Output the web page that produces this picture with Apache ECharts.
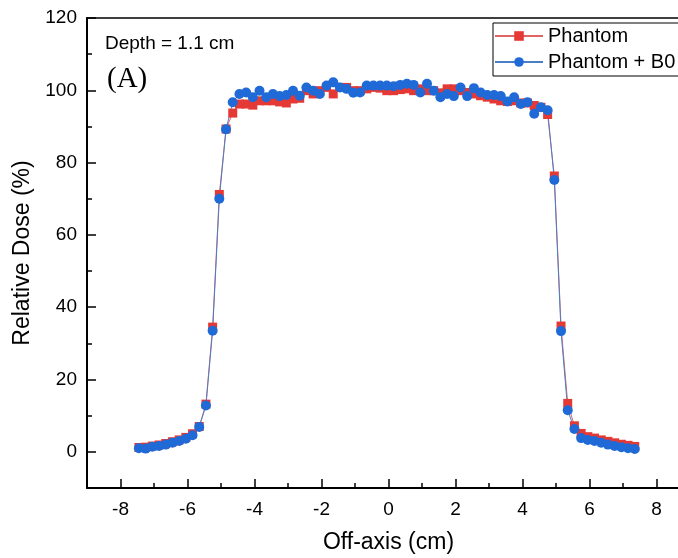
<!DOCTYPE html>
<html>
<head>
<meta charset="utf-8">
<script src="https://cdn.jsdelivr.net/npm/echarts@6/dist/echarts.min.js"></script>
<style>html,body{margin:0;padding:0;background:#fff;}#chart{width:678px;height:558px;}</style>
</head>
<body>
<div id="chart"></div>
<script>
// Off-axis positions (cm)
var offAxis = [-7.45,-7.25,-7.05,-6.85,-6.65,-6.45,-6.25,-6.05,-5.85,-5.65,
  -5.45,-5.25,-5.05,-4.85,-4.65,-4.45,-4.25,-4.05,-3.85,-3.65,
  -3.45,-3.25,-3.05,-2.85,-2.65,-2.45,-2.25,-2.05,-1.85,-1.65,
  -1.45,-1.25,-1.05,-0.85,-0.65,-0.45,-0.25,-0.05,0.15,0.35,
  0.55,0.75,0.95,1.15,1.35,1.55,1.75,1.95,2.15,2.35,
  2.55,2.75,2.95,3.15,3.35,3.55,3.75,3.95,4.15,4.35,
  4.55,4.75,4.95,5.15,5.35,5.55,5.75,5.95,6.15,6.35,
  6.55,6.75,6.95,7.15,7.35];
// Relative dose (%) - Phantom
var phantom = [1.2,1.3,1.6,1.9,2.3,2.8,3.3,4.0,5.0,7.0,
  13.2,34.5,71.2,89.3,93.7,96.2,96.2,95.9,97.1,97.1,
  97.1,96.8,96.5,97.6,97.8,99.9,99.0,99.9,100.8,99.0,
  100.8,100.8,99.9,99.9,100.4,100.8,100.6,99.9,99.9,100.2,
  100.4,99.9,100.4,99.9,99.9,99.3,100.4,100.4,99.9,99.4,
  99.0,98.5,98.1,97.6,97.1,96.9,97.1,96.5,96.5,95.8,
  95.3,93.3,76.3,34.8,13.4,7.2,5.1,4.2,3.8,3.3,
  2.9,2.5,2.1,1.8,1.5];
// Relative dose (%) - Phantom + B0
var phantomB0 = [1.0,0.9,1.4,1.6,2.0,2.5,3.0,3.6,4.6,6.9,
  12.8,33.5,70.0,89.2,96.7,99.0,99.4,98.1,99.9,98.1,
  99.0,98.4,98.7,99.9,98.5,100.8,99.9,99.0,101.3,102.2,
  100.8,100.4,99.3,99.4,101.3,101.3,101.3,101.3,101.1,101.5,
  101.8,101.5,99.4,101.8,99.9,98.1,99.0,98.4,100.8,98.4,
  100.6,99.4,98.7,98.7,98.4,96.9,98.1,96.2,96.7,93.5,
  95.3,94.5,75.2,33.4,11.5,6.3,3.8,3.3,3.0,2.5,
  2.0,1.6,1.3,1.0,0.8];
var xMajorTicks = [-8,-6,-4,-2,0,2,4,6,8];
var yMajorTicks = [0,20,40,60,80,100,120];
var seriesNames = ['Phantom','Phantom + B0'];

function pairs(xs, ys){ return xs.map(function(x,i){ return [x, ys[i]]; }); }

var FONT = "'Liberation Sans', Arial, sans-serif";
var chart = echarts.init(document.getElementById('chart'), null, {renderer:'canvas'});
chart.setOption({
  backgroundColor:'#fff',
  animation:false,
  grid:{left:87, top:18, bottom:70, right:-12, outerBoundsMode:'none', containLabel:false,
    show:true, borderColor:'#000', borderWidth:1.5, backgroundColor:'transparent'},
  legend:{
    orient:'vertical', left:493, top:23,
    data:seriesNames,
    itemWidth:48, itemHeight:12, itemGap:6,
    padding:[3,60,4,1],
    borderColor:'#000', borderWidth:1, borderRadius:0,
    textStyle:{fontFamily:FONT, fontSize:20, color:'#000'}
  },
  xAxis:[{
    type:'value', min:-9, max:9, interval:1,
    name:'Off-axis (cm)', nameLocation:'middle', nameGap:43,
    nameTextStyle:{fontFamily:FONT, fontSize:23, color:'#000'},
    axisLine:{onZero:false, lineStyle:{color:'#000', width:2}},
    axisTick:{inside:true, length:5, lineStyle:{color:'#000', width:1.5}},
    axisLabel:{fontFamily:FONT, fontSize:19, color:'#000', margin:12,
      formatter:function(v){ return xMajorTicks.indexOf(v) >= 0 ? String(v) : ''; }},
    splitLine:{show:false}
  },{
    type:'value', min:-9, max:9, interval:1, position:'bottom',
    axisLine:{show:false, onZero:false},
    axisTick:{inside:true, length:9, customValues:xMajorTicks, lineStyle:{color:'#000', width:1.5}},
    axisLabel:{show:false},
    splitLine:{show:false}
  }],
  yAxis:[{
    type:'value', min:-10, max:120, interval:10,
    name:'Relative Dose (%)', nameLocation:'middle', nameGap:46,
    nameTextStyle:{fontFamily:FONT, fontSize:23, color:'#000'},
    axisLine:{onZero:false, lineStyle:{color:'#000', width:2}},
    axisTick:{inside:true, length:5, lineStyle:{color:'#000', width:1.5}},
    axisLabel:{fontFamily:FONT, fontSize:19, color:'#000', margin:10,
      formatter:function(v){ return yMajorTicks.indexOf(v) >= 0 ? String(v) : ''; }},
    splitLine:{show:false}
  },{
    type:'value', min:-10, max:120, interval:10, position:'left',
    axisLine:{show:false, onZero:false},
    axisTick:{inside:true, length:9, customValues:yMajorTicks, lineStyle:{color:'#000', width:1.5}},
    axisLabel:{show:false},
    splitLine:{show:false}
  }],
  graphic:[
    {type:'text', x:105, y:44, style:{text:'Depth = 1.1 cm', font:"19px 'Liberation Sans', Arial, sans-serif", fill:'#000', align:'left', verticalAlign:'middle'}},
    {type:'text', x:107, y:79, style:{text:'(A)', font:"29px 'Liberation Serif', 'Times New Roman', serif", fill:'#000', align:'left', verticalAlign:'middle'}}
  ],
  series:[{
    name:seriesNames[0], type:'line', data:pairs(offAxis, phantom),
    symbol:'rect', symbolSize:9, showAllSymbol:true,
    lineStyle:{color:'#E06666', width:1},
    itemStyle:{color:'#E53935'}
  },{
    name:seriesNames[1], type:'line', data:pairs(offAxis, phantomB0),
    symbol:'circle', symbolSize:10, showAllSymbol:true,
    lineStyle:{color:'#4A7FC8', width:1},
    itemStyle:{color:'#1F6AD6'}
  }]
});
</script>
</body>
</html>
